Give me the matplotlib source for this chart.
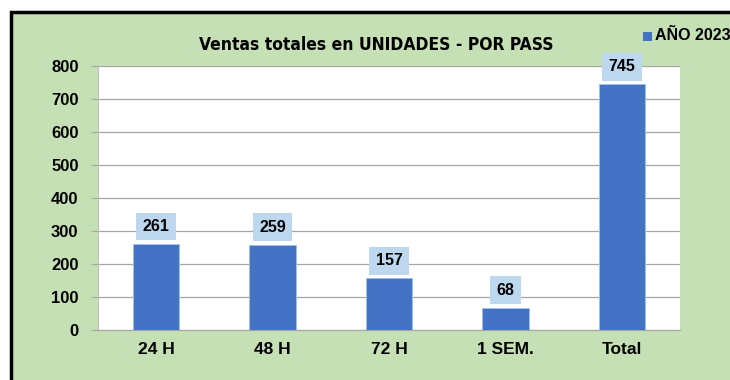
import matplotlib.pyplot as plt
from matplotlib.patches import Rectangle

categories = ["24 H", "48 H", "72 H", "1 SEM.", "Total"]
ventas = [261, 259, 157, 68, 745]
yticks = [0, 100, 200, 300, 400, 500, 600, 700, 800]

W, H = 730, 380
fig = plt.figure(figsize=(W / 100, H / 100), dpi=100)
fig.patch.set_facecolor("white")

# green panel with thick black frame, cut off on right and bottom
fig.patches.append(Rectangle((11 / W, -0.01), 1, 1.01 - 12 / H, transform=fig.transFigure,
                             facecolor="#C5E0B4", edgecolor="black", linewidth=2.5,
                             zorder=-1))

ax = fig.add_axes([98 / W, 1 - 330 / H, 582 / W, 264 / H])
ax.set_facecolor("white")
x = range(len(categories))
ax.bar(x, ventas, width=0.4, color="#4472C4", edgecolor="#9DC3E6", linewidth=0.6, zorder=3)

for i, v in enumerate(ventas):
    ax.annotate(str(v), (i, v), xytext=(0, 12.5), textcoords="offset points",
                ha="center", va="center", fontsize=11.5, fontweight="bold",
                family="Liberation Sans",
                bbox=dict(boxstyle="square,pad=0.4", facecolor="#BDD7EE", edgecolor="none"),
                zorder=4)

ax.set_xlim(-0.5, len(categories) - 0.5)
ax.set_ylim(0, 800)
ax.set_yticks(yticks)
ax.set_yticklabels([str(t) for t in yticks], fontsize=12, fontweight="bold", family="Liberation Sans")
ax.set_xticks(list(x))
ax.set_xticklabels(categories, fontsize=12.5, fontweight="bold", family="Liberation Sans")
ax.tick_params(axis="x", length=0, pad=9)
ax.tick_params(axis="y", length=5, color="#A6A6A6", pad=9)
ax.grid(axis="y", color="#A6A6A6", linewidth=0.9, zorder=0)
ax.set_axisbelow(True)
for s in ["top", "right"]:
    ax.spines[s].set_visible(False)
ax.spines["left"].set_color("#BFBFBF")
ax.spines["left"].set_linewidth(0.8)
ax.spines["bottom"].set_color("#A6A6A6")

fig.text(376 / W, 1 - 45 / H, "Ventas totales en UNIDADES - POR PASS",
         ha="center", va="center", fontsize=12.5, fontweight="bold",
         family="Liberation Sans Narrow", fontstretch="condensed")

# legend entry
fig.patches.append(Rectangle((643 / W, 1 - 41 / H), 9 / W, 9 / H, transform=fig.transFigure,
                             facecolor="#4472C4", edgecolor="none"))
fig.text(655 / W, 1 - 36 / H, "AÑO 2023", ha="left", va="center",
         fontsize=11.5, fontweight="bold", family="Liberation Sans")

fig.savefig("out.png", dpi=100)
